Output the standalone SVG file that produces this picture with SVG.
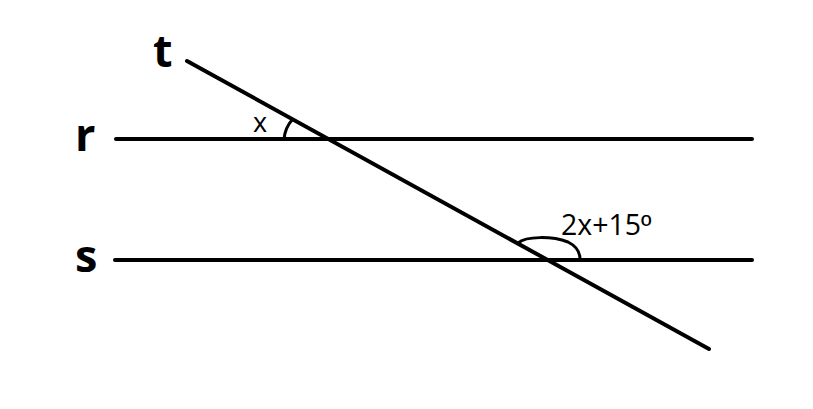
<svg xmlns="http://www.w3.org/2000/svg" width="813" height="409" viewBox="0 0 813 409">
<style>
.ln{stroke:#000;stroke-width:4;fill:none;stroke-linecap:round}
.arc{stroke:#000;stroke-width:3;fill:none}
.big{font-family:"Open Sans","Liberation Sans",sans-serif;font-weight:bold;font-size:45px;fill:#000}
.small{font-family:"Open Sans","Liberation Sans",sans-serif;font-size:27px;fill:#000}
</style>
<rect width="813" height="409" fill="#fff"/>
<g id="connectors">
<line id="line-r" class="ln" x1="116" y1="139" x2="752" y2="139"/>
<line id="line-s" class="ln" x1="115" y1="260" x2="752" y2="260"/>
<line id="line-t" class="ln" x1="187" y1="61" x2="709" y2="349"/>
</g>
<g id="angle-x">
<path class="arc" d="M284,139 Q285,128 292,120"/>
<text class="small" x="253" y="132">x</text>
</g>
<g id="angle-2x15">
<path class="arc" d="M518,243 C526,236 552,236 568,242 C576,246 580,252 580,259"/>
<text class="small" x="561" y="235" style="font-size:28.5px">2x+15<tspan style="font-family:'Liberation Sans',sans-serif">º</tspan></text>
</g>
<g id="label-t"><text class="big" x="153" y="67">t</text></g>
<g id="label-r"><text class="big" x="75" y="151">r</text></g>
<g id="label-s"><text class="big" x="75" y="272">s</text></g>
</svg>
